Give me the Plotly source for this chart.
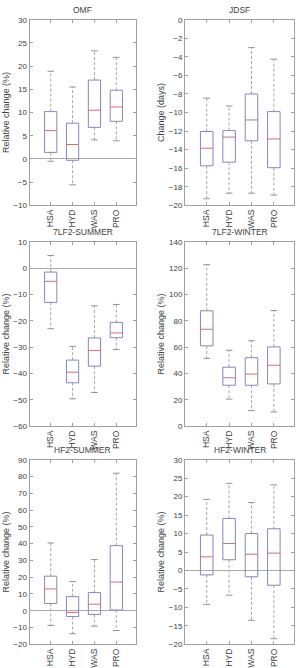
import plotly.graph_objects as go

categories = ["HSA", "HYD", "WAS", "PRO"]

# OMF (relative change %)
omf_lower = [-0.5, -5.6, 4.1, 3.9]
omf_q1 = [1.4, -0.3, 6.8, 8.1]
omf_median = [6.1, 3.1, 10.5, 11.2]
omf_q3 = [10.2, 7.7, 17.0, 14.8]
omf_upper = [18.9, 15.5, 23.3, 21.9]

# JDSF (change in days)
jdsf_lower = [-19.3, -18.7, -18.7, -18.9]
jdsf_q1 = [-15.75, -15.35, -13.05, -15.95]
jdsf_median = [-13.85, -12.65, -10.8, -12.85]
jdsf_q3 = [-12.05, -11.95, -8.0, -9.9]
jdsf_upper = [-8.45, -9.3, -3.0, -4.25]

# 7LF2-SUMMER
lf_s_lower = [-23.0, -49.6, -47.2, -30.9]
lf_s_q1 = [-13.0, -43.5, -37.2, -26.4]
lf_s_median = [-5.0, -39.5, -31.3, -24.6]
lf_s_q3 = [-1.5, -34.9, -26.5, -20.6]
lf_s_upper = [4.8, -29.7, -14.3, -13.8]

# 7LF2-WINTER
lf_w_lower = [51.5, 20.6, 11.9, 10.9]
lf_w_q1 = [61.0, 31.1, 31.1, 32.1]
lf_w_median = [73.6, 36.8, 39.6, 46.3]
lf_w_q3 = [87.6, 44.8, 52.0, 60.2]
lf_w_upper = [122.6, 57.7, 64.9, 87.8]

# HF2-SUMMER
hf_s_lower = [-8.8, -13.7, -9.2, -11.8]
hf_s_q1 = [4.3, -3.5, -2.2, 0.4]
hf_s_median = [13.0, -1.0, 3.9, 17.1]
hf_s_q3 = [20.6, 8.4, 10.8, 38.8]
hf_s_upper = [40.4, 17.4, 30.5, 82.0]

# HF2-WINTER
hf_w_lower = [-9.2, -6.7, -13.5, -18.5]
hf_w_q1 = [-1.2, 2.9, -1.7, -4.0]
hf_w_median = [3.7, 7.3, 4.4, 4.7]
hf_w_q3 = [9.6, 14.1, 10.0, 11.3]
hf_w_upper = [19.25, 23.6, 18.4, 23.2]

panels = [
    ("OMF", "Relative change (%)", [-10, 30], 5,
     omf_lower, omf_q1, omf_median, omf_q3, omf_upper),
    ("JDSF", "Change (days)", [-20, 0], 2,
     jdsf_lower, jdsf_q1, jdsf_median, jdsf_q3, jdsf_upper),
    ("7LF2-SUMMER", "Relative change (%)", [-60, 10], 10,
     lf_s_lower, lf_s_q1, lf_s_median, lf_s_q3, lf_s_upper),
    ("7LF2-WINTER", "Relative change (%)", [0, 140], 20,
     lf_w_lower, lf_w_q1, lf_w_median, lf_w_q3, lf_w_upper),
    ("HF2-SUMMER", "Relative change (%)", [-20, 90], 10,
     hf_s_lower, hf_s_q1, hf_s_median, hf_s_q3, hf_s_upper),
    ("HF2-WINTER", "Relative change (%)", [-20, 30], 5,
     hf_w_lower, hf_w_q1, hf_w_median, hf_w_q3, hf_w_upper),
]

W, H = 300, 668
col_x = [(29.5, 136.0), (185.0, 294.0)]
row_y = [(16, 204), (241, 428), (462, 649)]

BOX_COLOR = "#8686bc"
MED_COLOR = "#dc6a6a"
WHISK_COLOR = "#a4a4b4"
CAP_COLOR = "#9090a0"
FRAME_COLOR = "#a0a0a0"
TEXT_COLOR = "#404040"
FONT = "Liberation Sans, Arial, sans-serif"

bw = 0.28   # half box width (category units)
cw = 0.15   # half cap width

fig = go.Figure()
annotations = []

for i, (title, ytitle, yr, dt, lo, q1, med, q3, up) in enumerate(panels):
    r, c = divmod(i, 2)
    n = i + 1
    xa = "x" if n == 1 else f"x{n}"
    ya = "y" if n == 1 else f"y{n}"
    pos = list(range(1, len(categories) + 1))

    bx, by, mx, my, wx, wy, cx, cy = [], [], [], [], [], [], [], []
    for p, a, b, m, d, e in zip(pos, lo, q1, med, q3, up):
        bx += [p - bw, p + bw, p + bw, p - bw, p - bw, None]
        by += [b, b, d, d, b, None]
        mx += [p - bw, p + bw, None]
        my += [m, m, None]
        wx += [p, p, None, p, p, None]
        wy += [d, e, None, b, a, None]
        cx += [p - cw, p + cw, None, p - cw, p + cw, None]
        cy += [e, e, None, a, a, None]

    common = dict(xaxis=xa, yaxis=ya, mode="lines", showlegend=False, hoverinfo="skip")
    fig.add_trace(go.Scatter(x=wx, y=wy, line=dict(color=WHISK_COLOR, width=1, dash="3px,2px"), **common))
    fig.add_trace(go.Scatter(x=cx, y=cy, line=dict(color=CAP_COLOR, width=1), **common))
    fig.add_trace(go.Scatter(x=bx, y=by, line=dict(color=BOX_COLOR, width=1), **common))
    fig.add_trace(go.Scatter(x=mx, y=my, line=dict(color=MED_COLOR, width=1), **common))

    x0, x1 = col_x[c]
    y0, y1 = row_y[r]
    xdom = [x0 / W, x1 / W]
    ydom = [1 - y1 / H, 1 - y0 / H]

    xkey = "xaxis" if n == 1 else f"xaxis{n}"
    ykey = "yaxis" if n == 1 else f"yaxis{n}"
    fig.update_layout({
        xkey: dict(
            domain=xdom, anchor=ya, range=[0.03, 4.9],
            tickvals=pos, ticktext=categories, tickangle=-90,
            showline=True, mirror="ticks", linecolor=FRAME_COLOR, linewidth=1,
            ticks="inside", ticklen=3, tickcolor=FRAME_COLOR,
            showgrid=False, zeroline=False,
            tickfont=dict(family=FONT, size=8.5, color=TEXT_COLOR),
            fixedrange=True,
        ),
        ykey: dict(
            domain=ydom, anchor=xa, range=yr, dtick=dt, tick0=0,
            showline=True, mirror="ticks", linecolor=FRAME_COLOR, linewidth=1,
            ticks="inside", ticklen=3, tickcolor=FRAME_COLOR,
            showgrid=False, zeroline=True, zerolinecolor="#ababab", zerolinewidth=1,
            tickfont=dict(family=FONT, size=8, color=TEXT_COLOR),
            title=dict(text=ytitle, font=dict(family=FONT, size=9, color=TEXT_COLOR), standoff=2),
            fixedrange=True,
        ),
    })
    annotations.append(dict(
        text=title, xref="paper", yref="paper",
        x=(xdom[0] + xdom[1]) / 2, y=ydom[1], xanchor="center", yanchor="bottom",
        yshift=3, showarrow=False,
        font=dict(family=FONT, size=8.5, color=TEXT_COLOR),
    ))

fig.update_layout(
    width=W, height=H,
    margin=dict(l=0, r=0, t=0, b=0),
    paper_bgcolor="white", plot_bgcolor="white",
    annotations=annotations,
)

fig.write_html("out.html")
